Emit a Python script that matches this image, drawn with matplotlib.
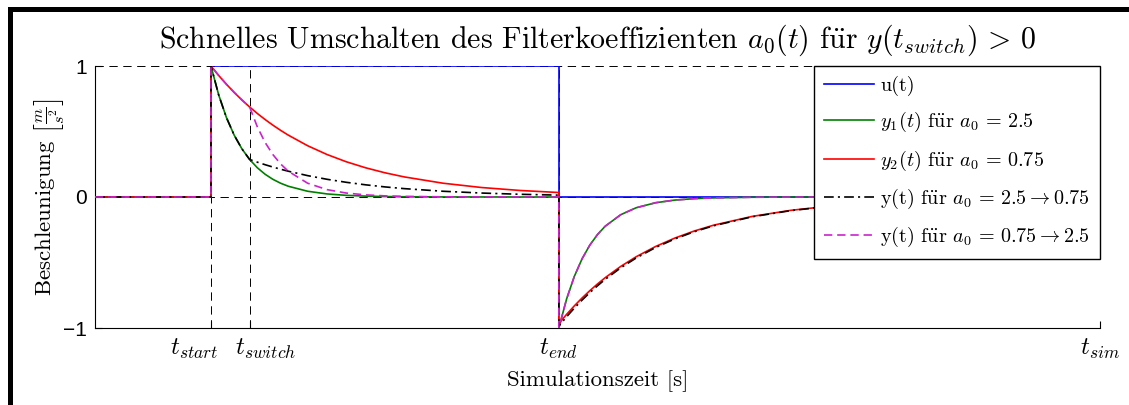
import matplotlib
matplotlib.use("Agg")
import matplotlib.pyplot as plt
from matplotlib.patches import Rectangle
from matplotlib.transforms import ScaledTranslation, blended_transform_factory

plt.rcParams["mathtext.fontset"] = "cm"
plt.rcParams["font.family"] = "cmr10"
plt.rcParams["axes.formatter.use_mathtext"] = True
plt.rcParams["lines.scale_dashes"] = False

# --- simulation output (time in s) -------------------------------------
t = [0.0, 1.5,
     1.5, 1.6, 1.7, 1.8, 1.9, 2.0, 2.1, 2.2, 2.3, 2.4, 2.5, 2.75, 3.0, 3.25,
     3.5, 3.75, 4.0, 4.5, 5.0, 5.5, 6.0,
     6.0, 6.1, 6.2, 6.3, 6.4, 6.5, 6.6, 6.8, 7.0, 7.25, 7.5, 7.75, 8.0, 8.5,
     9.0, 9.5, 10.0, 10.5, 11.0, 12.0, 13.0]

u = [0, 0,
     1, 1, 1, 1, 1, 1, 1, 1, 1, 1, 1, 1, 1, 1, 1, 1, 1, 1, 1, 1, 1,
     0, 0, 0, 0, 0, 0, 0, 0, 0, 0, 0, 0, 0, 0, 0, 0, 0, 0, 0, 0, 0]

y1 = [0, 0,
      1.0, 0.7788, 0.6065, 0.4724, 0.3679, 0.2865, 0.2231, 0.1738, 0.1353,
      0.1054, 0.0821, 0.0439, 0.0235, 0.0126, 0.0067, 0.0036, 0.0019, 0.0006,
      0.0002, 0.0, 0.0,
      -1.0, -0.7788, -0.6065, -0.4724, -0.3679, -0.2865, -0.2231, -0.1353,
      -0.0821, -0.0439, -0.0235, -0.0126, -0.0067, -0.0019, -0.0006, -0.0002,
      0.0, 0.0, 0.0, 0.0, 0.0]

y2 = [0, 0,
      1.0, 0.9277, 0.8607, 0.7985, 0.7408, 0.6873, 0.6376, 0.5916, 0.5488,
      0.5092, 0.4724, 0.3916, 0.3247, 0.2691, 0.2231, 0.1850, 0.1534, 0.1054,
      0.0724, 0.0498, 0.0342,
      -0.9658, -0.8960, -0.8313, -0.7712, -0.7155, -0.6638, -0.6158, -0.5300,
      -0.4562, -0.3782, -0.3136, -0.2599, -0.2155, -0.1482, -0.1018, -0.0699,
      -0.0481, -0.0330, -0.0227, -0.0107, -0.0050]

y_fast_slow = [0, 0,
               1.0, 0.7788, 0.6065, 0.4724, 0.3679, 0.2865, 0.2658, 0.2466,
               0.2288, 0.2122, 0.1969, 0.1632, 0.1353, 0.1122, 0.0930, 0.0771,
               0.0639, 0.0439, 0.0302, 0.0207, 0.0143,
               -0.9857, -0.9144, -0.8484, -0.7871, -0.7302, -0.6775, -0.6285,
               -0.5410, -0.4656, -0.3860, -0.3201, -0.2653, -0.2199, -0.1512,
               -0.1039, -0.0714, -0.0491, -0.0337, -0.0232, -0.0109, -0.0051]

y_slow_fast = [0, 0,
               1.0, 0.9277, 0.8607, 0.7985, 0.7408, 0.6873, 0.5353, 0.4169,
               0.3247, 0.2528, 0.1969, 0.1054, 0.0564, 0.0302, 0.0162, 0.0087,
               0.0046, 0.0013, 0.0004, 0.0001, 0.0,
               -1.0, -0.7788, -0.6065, -0.4724, -0.3679, -0.2865, -0.2231,
               -0.1353, -0.0821, -0.0439, -0.0235, -0.0126, -0.0067, -0.0019,
               -0.0006, -0.0002, 0.0, 0.0, 0.0, 0.0, 0.0]

# marked instants and their labels
t_marks = [1.5, 2.0, 6.0, 13.0]
t_mark_labels = [r"$t_{start}$", r"$t_{switch}$", r"$t_{end}$", r"$t_{sim}$"]
y_ticks = [-1, 0, 1]
y_tick_labels = ["\u22121", "0", "1"]

fuer = r"f$\ddot{\mathrm{u}}$r"
labels = [
    "u(t)",
    r"$y_1(t)$ " + fuer + r" $a_0\, =\, 2.5$",
    r"$y_2(t)$ " + fuer + r" $a_0\, =\, 0.75$",
    r"y(t) " + fuer + r" $a_0\, =\, 2.5 \rightarrow 0.75$",
    r"y(t) " + fuer + r" $a_0\, =\, 0.75 \rightarrow 2.5$",
]
title = (r"Schnelles Umschalten des Filterkoeffizienten $a_0(t)$ " + fuer
         + r" $y(t_{switch})\, >\, 0$")

W, H = 1129, 405
fig = plt.figure(figsize=(W / 100, H / 100), dpi=100)
ax = fig.add_axes([95 / W, 1 - 328 / H, (1100 - 95) / W, (328 - 66) / H])

# dashed guide lines
guide = dict(color="black", lw=0.7, linestyle=(0, (6, 4)), zorder=1)
for yv in y_ticks:
    ax.plot([0, t_marks[-1]], [yv, yv], **guide)
for tv in t_marks:
    ax.plot([tv, tv], [-1, 1], **guide)

lw = 1.2
lines = []
lines += ax.plot(t, u, color="#0000ff", lw=lw, zorder=3)
lines += ax.plot(t, y1, color="#008000", lw=lw, zorder=3)
lines += ax.plot(t, y2, color="#ff0000", lw=lw, zorder=3)
lines += ax.plot(t, y_fast_slow, color="black", lw=lw,
                 linestyle=(0, (7, 3, 1.5, 3)), zorder=3)
lines += ax.plot(t, y_slow_fast, color="#cc22cc", lw=lw,
                 linestyle=(0, (6, 3.5)), zorder=3)

ax.set_xlim(0, t_marks[-1])
ax.set_ylim(-1, 1)
for s in ("top", "right"):
    ax.spines[s].set_visible(False)
for s in ("left", "bottom"):
    ax.spines[s].set_linewidth(0.8)

ax.set_xticks(t_marks)
ax.set_xticklabels([""] * len(t_marks))
ax.set_yticks(y_ticks)
ax.set_yticklabels(y_tick_labels, fontsize=15, family="Liberation Sans")
ax.tick_params(axis="both", direction="in", length=5, width=0.8)
ax.tick_params(axis="y", pad=6)

# time-mark labels below the axis; the two close ones are pushed apart
xlab_tr = blended_transform_factory(ax.transData, ax.transAxes)
mark_align = ["right", "left", "center", "center"]
mark_shift_px = [7, -15, 0, 0]
for tv, txt, ha, dx in zip(t_marks, t_mark_labels, mark_align, mark_shift_px):
    off = ScaledTranslation(dx / 100, -9 / 100, fig.dpi_scale_trans)
    ax.text(tv, 0, txt, transform=xlab_tr + off, ha=ha, va="top", fontsize=18)

ax.set_title(title, fontsize=21.5, pad=13)
ax.set_xlabel("Simulationszeit [s]", fontsize=16.5)
ax.xaxis.set_label_coords(0.5, -0.163)
ax.set_ylabel(r"Beschleunigung $\left[\frac{m}{s^2}\right]$", fontsize=16.5)
ax.yaxis.set_label_coords(-0.029, 0.5)

leg = ax.legend(lines, labels, loc="upper right", bbox_to_anchor=(1, 1),
                borderaxespad=0, fontsize=14.5, fancybox=False, framealpha=1,
                edgecolor="black", handlelength=2.5, handletextpad=0.3,
                labelspacing=0.7, borderpad=0.5)
leg.get_frame().set_linewidth(1.0)

# heavy frame on the left and top edge
fig.add_artist(Rectangle((8 / W, 0), 5 / W, (H - 7) / H,
                         transform=fig.transFigure, color="black", lw=0))
fig.add_artist(Rectangle((8 / W, 1 - 12 / H), (W - 8) / W, 5 / H,
                         transform=fig.transFigure, color="black", lw=0))

fig.savefig("out.png", dpi=100)
